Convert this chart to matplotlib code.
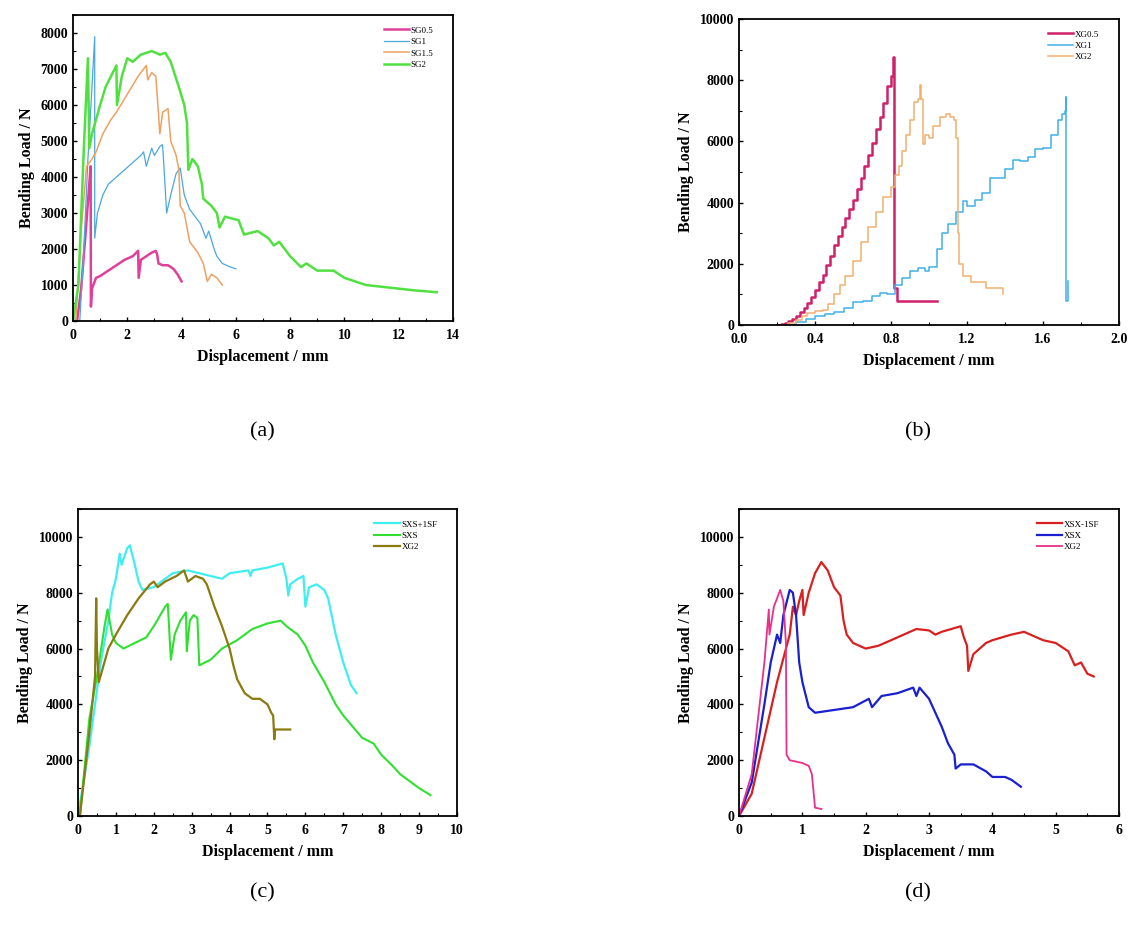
import matplotlib
matplotlib.use("Agg")
import matplotlib.pyplot as plt
from matplotlib.ticker import MultipleLocator, FormatStrFormatter

plt.rcParams['font.family'] = ['Liberation Serif', 'DejaVu Serif']

# ---------------- (a) SG series ----------------
sg05_x = [0.15, 0.3, 0.45, 0.6, 0.65, 0.66, 0.7, 0.85, 1.0, 1.3, 1.6, 1.9, 2.2, 2.4, 2.42, 2.5, 2.7, 2.9, 3.05, 3.1, 3.15, 3.3, 3.5, 3.7, 3.85, 4.0]
sg05_y = [0, 900, 2300, 3800, 4300, 400, 900, 1200, 1250, 1400, 1550, 1700, 1800, 1950, 1200, 1700, 1800, 1900, 1950, 1850, 1600, 1550, 1550, 1450, 1300, 1100]

sg1_x = [0.25, 0.4, 0.55, 0.7, 0.8, 0.8, 0.9, 1.1, 1.3, 1.6, 1.9, 2.2, 2.5, 2.6, 2.7, 2.9, 3.0, 3.2, 3.3, 3.35, 3.45, 3.6, 3.8, 3.95, 4.1, 4.3, 4.5, 4.7, 4.9, 5.0, 5.2, 5.3, 5.5, 5.8, 6.0]
sg1_y = [0, 2000, 4500, 6500, 7900, 2300, 3000, 3500, 3800, 4000, 4200, 4400, 4600, 4700, 4300, 4800, 4600, 4850, 4900, 4300, 3000, 3500, 4100, 4250, 3500, 3100, 2900, 2700, 2300, 2500, 2000, 1800, 1600, 1500, 1450]

sg15_x = [0.1, 0.3, 0.5, 0.7, 0.85, 1.1, 1.4, 1.6, 2.0, 2.4, 2.7, 2.75, 2.9, 3.05, 3.1, 3.2, 3.3, 3.5, 3.6, 3.8, 3.9, 3.95, 4.1, 4.3, 4.6, 4.8, 4.95, 5.1, 5.3, 5.5]
sg15_y = [0, 2500, 4300, 4500, 4700, 5200, 5600, 5800, 6300, 6800, 7100, 6700, 6900, 6800, 6300, 5200, 5800, 5900, 5000, 4600, 4200, 3200, 3000, 2200, 1900, 1600, 1100, 1300, 1200, 1000]

sg2_x = [0.0, 0.2, 0.4, 0.55, 0.6, 0.7, 0.85, 1.0, 1.2, 1.4, 1.6, 1.62, 1.8, 2.0, 2.2, 2.5, 2.9, 3.2, 3.4, 3.6, 3.9, 4.1, 4.2, 4.25, 4.4, 4.6, 4.75, 4.8, 5.1, 5.3, 5.4, 5.6, 6.1, 6.3, 6.8, 7.2, 7.4, 7.6, 7.8, 8.0, 8.4, 8.6, 9.0, 9.6, 10.0, 10.4, 10.8, 11.4, 12.0, 12.6, 13.4]
sg2_y = [0, 1000, 4800, 7300, 4800, 5200, 5600, 6000, 6500, 6800, 7100, 6000, 6800, 7300, 7200, 7400, 7500, 7400, 7450, 7200, 6500, 6000, 5500, 4200, 4500, 4300, 3800, 3400, 3200, 3000, 2600, 2900, 2800, 2400, 2500, 2300, 2100, 2200, 2000, 1800, 1500, 1600, 1400, 1400, 1200, 1100, 1000, 950, 900, 850, 800]

# ---------------- (b) XG series ----------------
xg05_x = [0.20, 0.22, 0.24, 0.26, 0.28, 0.30, 0.32, 0.34, 0.36, 0.38, 0.40, 0.42, 0.44, 0.46, 0.48, 0.50, 0.52, 0.54, 0.56, 0.58, 0.60, 0.62, 0.64, 0.66, 0.68, 0.70, 0.72, 0.74, 0.76, 0.78, 0.80, 0.81, 0.815, 0.83, 1.04]
xg05_y = [0, 20, 60, 120, 200, 300, 420, 560, 720, 900, 1150, 1400, 1650, 1950, 2250, 2600, 2900, 3200, 3500, 3800, 4100, 4450, 4800, 5200, 5550, 5950, 6400, 6800, 7250, 7800, 8150, 8750, 1200, 800, 800]

xg1_x = [0.25, 0.30, 0.35, 0.40, 0.45, 0.50, 0.55, 0.60, 0.65, 0.70, 0.74, 0.78, 0.82, 0.86, 0.90, 0.94, 0.98, 1.00, 1.04, 1.07, 1.10, 1.14, 1.18, 1.20, 1.24, 1.28, 1.32, 1.36, 1.40, 1.44, 1.48, 1.52, 1.56, 1.60, 1.64, 1.68, 1.70, 1.715, 1.72, 1.72, 1.73]
xg1_y = [0, 100, 200, 280, 350, 420, 550, 750, 800, 950, 1050, 1000, 1300, 1550, 1750, 1850, 1750, 1900, 2500, 3000, 3300, 3700, 4050, 3900, 4100, 4300, 4800, 4800, 5100, 5400, 5350, 5500, 5750, 5800, 6200, 6700, 6900, 7000, 7450, 800, 1450]

xg2_x = [0.22, 0.26, 0.30, 0.33, 0.36, 0.40, 0.44, 0.47, 0.50, 0.53, 0.56, 0.60, 0.64, 0.68, 0.72, 0.76, 0.80, 0.82, 0.84, 0.86, 0.88, 0.90, 0.92, 0.94, 0.95, 0.96, 0.97, 0.98, 1.00, 1.02, 1.06, 1.09, 1.11, 1.13, 1.14, 1.15, 1.16, 1.18, 1.22, 1.30, 1.39]
xg2_y = [0, 60, 150, 300, 400, 450, 500, 700, 1000, 1300, 1600, 2100, 2700, 3200, 3700, 4200, 4500, 4900, 5200, 5700, 6200, 6700, 7300, 7400, 7850, 7400, 5900, 6200, 6100, 6500, 6800, 6900, 6800, 6700, 6100, 3000, 2000, 1600, 1400, 1200, 1000]

# ---------------- (c) SXS series ----------------
sxs1sf_x = [0.0, 0.3, 0.6, 0.8, 0.9, 1.0, 1.1, 1.15, 1.3, 1.37, 1.5, 1.6, 1.7, 2.0, 2.2, 2.5, 2.9, 3.2, 3.5, 3.8, 4.0, 4.5, 4.55, 4.6, 5.0, 5.4, 5.5, 5.55, 5.6, 5.8, 5.95, 6.0, 6.1, 6.3, 6.5, 6.6, 6.8, 7.0, 7.2, 7.35]
sxs1sf_y = [0, 2500, 5500, 7000, 8000, 8500, 9400, 9000, 9600, 9700, 9000, 8400, 8100, 8200, 8400, 8700, 8800, 8700, 8600, 8500, 8700, 8800, 8600, 8800, 8900, 9050, 8500, 7900, 8300, 8500, 8600, 7500, 8200, 8300, 8100, 7800, 6500, 5500, 4700, 4400]

sxs_x = [0.05, 0.3, 0.5, 0.7, 0.78, 0.9, 1.0, 1.2, 1.5, 1.8, 2.0, 2.3, 2.37, 2.45, 2.55, 2.7, 2.85, 2.87, 2.95, 3.05, 3.15, 3.2, 3.5, 3.8, 4.2, 4.6, 5.0, 5.35, 5.5, 5.8, 6.0, 6.2, 6.5, 6.8, 7.0, 7.5, 7.8, 8.0, 8.3, 8.5, 8.8, 9.0, 9.3]
sxs_y = [0, 3500, 5000, 6800, 7400, 6500, 6200, 6000, 6200, 6400, 6800, 7500, 7600, 5600, 6500, 7000, 7300, 5900, 7000, 7200, 7100, 5400, 5600, 6000, 6300, 6700, 6900, 7000, 6800, 6500, 6100, 5500, 4800, 4000, 3600, 2800, 2600, 2200, 1800, 1500, 1200, 1000, 750]

xg2c_x = [0.05, 0.3, 0.45, 0.48, 0.5, 0.55, 0.8, 1.0, 1.3, 1.6, 1.9, 2.0, 2.1, 2.3, 2.6, 2.8, 2.9, 3.0, 3.1, 3.3, 3.4, 3.6, 3.8, 4.0, 4.1, 4.2, 4.4, 4.6, 4.8, 5.0, 5.1, 5.15, 5.18, 5.2, 5.3, 5.6]
xg2c_y = [0, 3000, 5000, 7800, 6000, 4800, 6000, 6500, 7200, 7800, 8300, 8400, 8200, 8400, 8600, 8800, 8400, 8500, 8600, 8500, 8300, 7500, 6800, 6000, 5400, 4900, 4400, 4200, 4200, 4000, 3700, 3600, 2750, 3100, 3100, 3100]

# ---------------- (d) XSX series ----------------
xsx1sf_x = [0.0, 0.2, 0.4, 0.6, 0.8, 0.85, 0.9, 0.95, 1.0, 1.02, 1.1, 1.2, 1.3, 1.4, 1.5, 1.6, 1.65, 1.7, 1.8, 2.0, 2.2, 2.5, 2.8, 3.0, 3.1, 3.2, 3.5, 3.55, 3.6, 3.62, 3.7, 3.9, 4.0, 4.3, 4.5, 4.6, 4.8, 5.0, 5.2, 5.3, 5.4, 5.5, 5.6]
xsx1sf_y = [0, 800, 2800, 4800, 6500, 7500, 7200, 7700, 8100, 7200, 8000, 8700, 9100, 8800, 8200, 7900, 7000, 6500, 6200, 6000, 6100, 6400, 6700, 6650, 6500, 6600, 6800, 6400, 6100, 5200, 5800, 6200, 6300, 6500, 6600, 6500, 6300, 6200, 5900, 5400, 5500, 5100, 5000]

xsx_x = [0.0, 0.2, 0.4, 0.5, 0.6, 0.65, 0.7, 0.8, 0.85, 0.9, 0.95, 1.0, 1.1, 1.2, 1.5, 1.8, 2.05, 2.1, 2.25, 2.5, 2.75, 2.8, 2.85, 3.0, 3.1, 3.2, 3.3, 3.4, 3.42, 3.5, 3.7, 3.9, 4.0, 4.2, 4.3, 4.45]
xsx_y = [0, 1200, 4000, 5500, 6500, 6200, 7200, 8100, 8000, 7200, 5500, 4800, 3900, 3700, 3800, 3900, 4200, 3900, 4300, 4400, 4600, 4300, 4600, 4200, 3700, 3200, 2600, 2200, 1700, 1850, 1850, 1600, 1400, 1400, 1300, 1050]

xg2d_x = [0.0, 0.2, 0.4, 0.47, 0.48, 0.55, 0.65, 0.7, 0.74, 0.75, 0.8, 1.0, 1.1, 1.15, 1.2, 1.3]
xg2d_y = [0, 1500, 5500, 7400, 6500, 7500, 8100, 7700, 6200, 2200, 2000, 1900, 1800, 1500, 300, 250]

fig = plt.figure(figsize=(11.37, 9.47), dpi=100)

ax_a = fig.add_axes([0.0642, 0.661, 0.3342, 0.3231])
ax_b = fig.add_axes([0.650, 0.6568, 0.3342, 0.3231])
ax_c = fig.add_axes([0.0686, 0.1383, 0.3333, 0.3242])
ax_d = fig.add_axes([0.650, 0.1383, 0.3342, 0.3242])

# (a)
ax_a.plot(sg05_x, sg05_y, color='#e0409a', lw=1.8, label='SG0.5')
ax_a.plot(sg1_x, sg1_y, color='#4aa8dc', lw=0.9, label='SG1')
ax_a.plot(sg15_x, sg15_y, color='#f0a060', lw=1.1, label='SG1.5')
ax_a.plot(sg2_x, sg2_y, color='#50e040', lw=1.8, label='SG2')
ax_a.set_xlim(0, 14)
ax_a.set_ylim(0, 8500)
ax_a.xaxis.set_major_locator(MultipleLocator(2))
ax_a.xaxis.set_minor_locator(MultipleLocator(1))
ax_a.yaxis.set_major_locator(MultipleLocator(1000))
ax_a.yaxis.set_minor_locator(MultipleLocator(500))

# (b)
ax_b.plot(xg05_x, xg05_y, color='#d0206a', lw=1.8, drawstyle='steps-post', label='XG0.5')
ax_b.plot(xg1_x, xg1_y, color='#40b0e8', lw=1.1, drawstyle='steps-post', label='XG1')
ax_b.plot(xg2_x, xg2_y, color='#f0b070', lw=1.1, drawstyle='steps-post', label='XG2')
ax_b.set_xlim(0, 2.0)
ax_b.set_ylim(0, 10000)
ax_b.xaxis.set_major_locator(MultipleLocator(0.4))
ax_b.xaxis.set_minor_locator(MultipleLocator(0.2))
ax_b.xaxis.set_major_formatter(FormatStrFormatter('%.1f'))
ax_b.yaxis.set_major_locator(MultipleLocator(2000))
ax_b.yaxis.set_minor_locator(MultipleLocator(1000))

# (c)
ax_c.plot(sxs1sf_x, sxs1sf_y, color='#40eef0', lw=1.6, label='SXS+1SF')
ax_c.plot(sxs_x, sxs_y, color='#30e030', lw=1.5, label='SXS')
ax_c.plot(xg2c_x, xg2c_y, color='#8a7a10', lw=1.6, label='XG2')
ax_c.set_xlim(0, 10)
ax_c.set_ylim(0, 11000)
ax_c.xaxis.set_major_locator(MultipleLocator(1))
ax_c.xaxis.set_minor_locator(MultipleLocator(0.5))
ax_c.yaxis.set_major_locator(MultipleLocator(2000))
ax_c.yaxis.set_minor_locator(MultipleLocator(1000))

# (d)
ax_d.plot(xsx1sf_x, xsx1sf_y, color='#d82020', lw=1.6, label='XSX-1SF')
ax_d.plot(xsx_x, xsx_y, color='#1a20d0', lw=1.6, label='XSX')
ax_d.plot(xg2d_x, xg2d_y, color='#e8308a', lw=1.3, label='XG2')
ax_d.set_xlim(0, 6)
ax_d.set_ylim(0, 11000)
ax_d.xaxis.set_major_locator(MultipleLocator(1))
ax_d.xaxis.set_minor_locator(MultipleLocator(0.5))
ax_d.yaxis.set_major_locator(MultipleLocator(2000))
ax_d.yaxis.set_minor_locator(MultipleLocator(1000))

for ax in [ax_a, ax_b, ax_c, ax_d]:
    ax.set_xlabel('Displacement / mm', fontsize=11.5, fontweight='bold', labelpad=5)
    ax.set_ylabel('Bending Load / N', fontsize=11.5, fontweight='bold', labelpad=4)
    ax.tick_params(which='both', direction='in', labelsize=10)
    ax.tick_params(axis='x', which='major', pad=6)
    ax.tick_params(which='major', length=3, width=1)
    ax.tick_params(which='minor', length=2, width=0.8)
    for lab in ax.get_xticklabels() + ax.get_yticklabels():
        lab.set_fontweight('bold')
    for sp in ax.spines.values():
        sp.set_linewidth(1.3)
    ax.legend(loc='upper right', bbox_to_anchor=(0.97, 0.99), frameon=False,
              fontsize=6.5, handlelength=2.8, handletextpad=0.2, labelspacing=0.35)

fig.text(0.2304, 0.5438, '(a)', ha='center', va='center', fontsize=16)
fig.text(0.8074, 0.5438, '(b)', ha='center', va='center', fontsize=16)
fig.text(0.2304, 0.057, '(c)', ha='center', va='center', fontsize=16)
fig.text(0.8074, 0.057, '(d)', ha='center', va='center', fontsize=16)

fig.savefig('out.png', dpi=100)
